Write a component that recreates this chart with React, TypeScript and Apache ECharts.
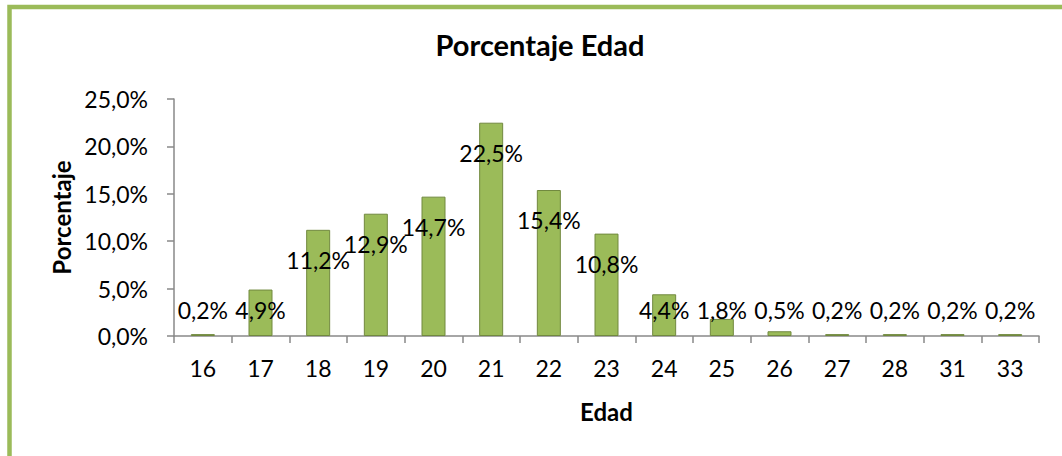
import React, { useEffect, useRef } from "react";
import * as echarts from "echarts";

const categories = ["16", "17", "18", "19", "20", "21", "22", "23", "24", "25", "26", "27", "28", "31", "33"];
const percentValues = [0.2, 4.9, 11.2, 12.9, 14.7, 22.5, 15.4, 10.8, 4.4, 1.8, 0.5, 0.2, 0.2, 0.2, 0.2];
const yTicks = { min: 0, max: 25, interval: 5 };

const FONT = "Lato, 'Open Sans', sans-serif";
const GRID = { left: 174, right: 23, top: 99, bottom: 120 };
const H = 456;

function fmt(v: number) {
  return v.toFixed(1).replace(".", ",") + "%";
}

export default function App() {
  const ref = useRef<HTMLDivElement>(null);
  useEffect(() => {
    if (!ref.current) return;
    const chart = echarts.init(ref.current, undefined, { renderer: "svg" });
    const plotH = H - GRID.top - GRID.bottom;
    const k = plotH / (yTicks.max - yTicks.min);
    const data = percentValues.map((v) => {
      const d = Math.min(30, v * k - 26);
      return {
        value: v,
        label: { position: ["50%", d] as any },
      };
    });
    chart.setOption({
      animation: false,
      backgroundColor: "#ffffff",
      title: {
        text: "Porcentaje Edad",
        left: 540,
        textAlign: "center",
        top: 30,
        padding: 0,
        textStyle: { fontFamily: FONT, fontSize: 29, fontWeight: "bold", color: "#000" },
      },
      graphic: [
        {
          type: "rect",
          shape: { x: 9.5, y: 7, width: 1300, height: 700 },
          style: { fill: "none", stroke: "#9BBB59", lineWidth: 4.5 },
          silent: true,
        },
      ],
      grid: GRID,
      xAxis: {
        type: "category",
        data: categories,
        name: "Edad",
        nameLocation: "middle",
        nameGap: 75,
        nameTextStyle: { fontFamily: FONT, fontSize: 24, fontWeight: "bold", color: "#000", verticalAlign: "middle" },
        axisLine: { lineStyle: { color: "#898989", width: 1.5 } },
        axisTick: { show: true, length: 7, lineStyle: { color: "#898989", width: 1.5 } },
        axisLabel: { fontFamily: FONT, fontSize: 23, color: "#000", margin: 20 },
        splitLine: { show: false },
      },
      yAxis: {
        type: "value",
        min: yTicks.min,
        max: yTicks.max,
        interval: yTicks.interval,
        name: "Porcentaje",
        nameLocation: "middle",
        nameRotate: 90,
        nameGap: 112,
        nameTextStyle: { fontFamily: FONT, fontSize: 24, fontWeight: "bold", color: "#000", verticalAlign: "middle" },
        axisLine: { show: true, lineStyle: { color: "#898989", width: 1.5 } },
        axisTick: { show: true, length: 7, lineStyle: { color: "#898989", width: 1.5 } },
        axisLabel: { fontFamily: FONT, fontSize: 23, color: "#000", margin: 26, formatter: (v: number) => fmt(v) },
        splitLine: { show: false },
      },
      series: [
        {
          type: "bar",
          data,
          barWidth: 24,
          itemStyle: { color: "#9BBB59", borderColor: "#71893F", borderWidth: 1 },
          label: {
            show: true,
            align: "center",
            verticalAlign: "middle",
            fontFamily: FONT,
            fontSize: 23,
            color: "#000",
            formatter: (p: any) => fmt(p.value),
          },
        },
      ],
    });
    return () => chart.dispose();
  }, []);
  return <div ref={ref} style={{ position: "fixed", left: 0, top: 0, width: 1062, height: 456 }} />;
}
